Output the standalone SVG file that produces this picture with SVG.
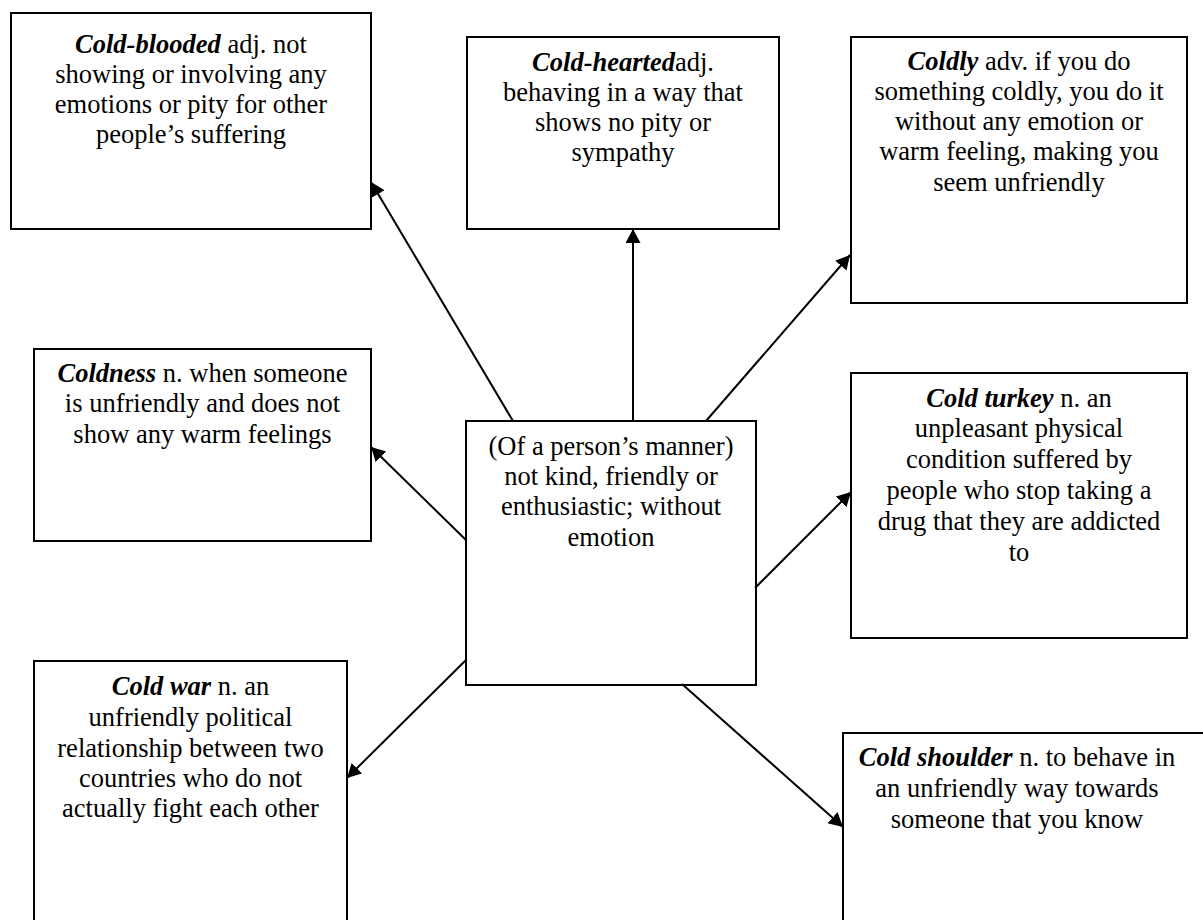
<svg xmlns="http://www.w3.org/2000/svg" width="1203" height="920" viewBox="0 0 1203 920">
<style>
.box{fill:#fff;stroke:#000;stroke-width:2}
text{font-family:"Liberation Serif","Times New Roman",serif;font-size:26.5px;fill:#000;text-anchor:middle}
.t{font-weight:bold;font-style:italic}
.c{stroke:#000;stroke-width:2;fill:none;marker-end:url(#ah)}
</style>
<defs>
<marker id="ah" markerUnits="userSpaceOnUse" markerWidth="16" markerHeight="16" refX="14" refY="7.5" orient="auto">
<path d="M0,0 L14,7.5 L0,15 Z" fill="#000"/>
</marker>
</defs>
<rect width="1203" height="920" fill="#fff"/>
<g id="n1">
<rect class="box" x="11" y="13" width="360" height="216"/>
<text x="191" y="53"><tspan class="t">Cold-blooded</tspan> adj. not</text>
<text x="191" y="83">showing or involving any</text>
<text x="191" y="113">emotions or pity for other</text>
<text x="191" y="143">people’s suffering</text>
</g>
<g id="n2">
<rect class="box" x="467" y="37" width="312" height="192"/>
<text x="623" y="71"><tspan class="t">Cold-hearted</tspan>adj.</text>
<text x="623" y="101">behaving in a way that</text>
<text x="623" y="131">shows no pity or</text>
<text x="623" y="161">sympathy</text>
</g>
<g id="n3">
<rect class="box" x="851" y="37" width="336" height="266"/>
<text x="1019" y="70"><tspan class="t">Coldly</tspan> adv. if you do</text>
<text x="1019" y="100">something coldly, you do it</text>
<text x="1019" y="130">without any emotion or</text>
<text x="1019" y="160">warm feeling, making you</text>
<text x="1019" y="191">seem unfriendly</text>
</g>
<g id="n4">
<rect class="box" x="34" y="349" width="337" height="192"/>
<text x="202.5" y="382"><tspan class="t">Coldness</tspan> n. when someone</text>
<text x="202.5" y="412">is unfriendly and does not</text>
<text x="202.5" y="443">show any warm feelings</text>
</g>
<g id="center">
<rect class="box" x="466" y="421" width="290" height="264"/>
<text x="611" y="455">(Of a person’s manner)</text>
<text x="611" y="485">not kind, friendly or</text>
<text x="611" y="515">enthusiastic; without</text>
<text x="611" y="546">emotion</text>
</g>
<g id="n6">
<rect class="box" x="851" y="373" width="336" height="265"/>
<text x="1019" y="407"><tspan class="t">Cold turkey</tspan> n. an</text>
<text x="1019" y="437">unpleasant physical</text>
<text x="1019" y="468">condition suffered by</text>
<text x="1019" y="499">people who stop taking a</text>
<text x="1019" y="530">drug that they are addicted</text>
<text x="1019" y="561">to</text>
</g>
<g id="n7">
<rect class="box" x="34" y="661" width="313" height="270"/>
<text x="190.5" y="695"><tspan class="t">Cold war</tspan> n. an</text>
<text x="190.5" y="726">unfriendly political</text>
<text x="190.5" y="757">relationship between two</text>
<text x="190.5" y="787">countries who do not</text>
<text x="190.5" y="817">actually fight each other</text>
</g>
<g id="n8">
<rect class="box" x="843" y="733" width="370" height="200"/>
<text x="1017" y="766"><tspan class="t">Cold shoulder</tspan> n. to behave in</text>
<text x="1017" y="797">an unfriendly way towards</text>
<text x="1017" y="828">someone that you know</text>
</g>
<g id="connectors">
<line class="c" x1="513" y1="421" x2="371" y2="182"/>
<line class="c" x1="633" y1="421" x2="633" y2="229"/>
<line class="c" x1="706" y1="421" x2="850" y2="255"/>
<line class="c" x1="466" y1="540" x2="371" y2="447"/>
<line class="c" x1="755" y1="588" x2="851" y2="492"/>
<line class="c" x1="466" y1="660" x2="347" y2="778"/>
<line class="c" x1="682" y1="684" x2="843" y2="827"/>
</g>
</svg>
